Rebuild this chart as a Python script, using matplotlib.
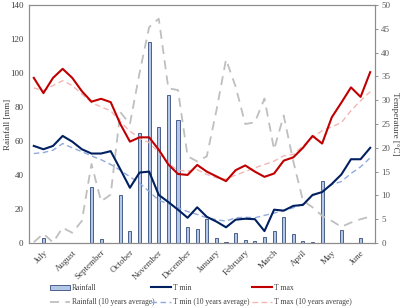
import numpy as np
import matplotlib.pyplot as plt
from matplotlib.patches import Patch
from matplotlib.lines import Line2D

# dekadal data, July -> June (3 values per month)
months = ['July', 'August', 'September', 'October', 'November', 'December',
          'January', 'February', 'March', 'April', 'May', 'June']

rainfall = [0, 3, 0, 0, 0, 0, 33, 2.5, 0, 28, 7, 64.5,
            118, 68, 87, 72.5, 9.2, 8.5, 14, 2.8, 0.6, 5.6, 1.9, 0.9,
            3.7, 7.2, 15, 5, 1.4, 0.4, 36.6, 0.2, 7.8, 0, 2.7, 0]
rainfall_avg = [0.5, 5.5, 0.3, 9, 6, 13, 46.5, 24.5, 28.5, 77, 70, 100,
                127, 132, 91, 90, 51, 48, 51, 78, 108, 92, 70, 71,
                85, 55, 75, 48, 25, 21, 16, 13, 9.5, 12, 14, 15.5]
t_min = [20.4, 19.7, 20.4, 22.5, 21.3, 19.7, 18.8, 18.8, 19.3, 15.5, 11.6, 14.8,
         15.0, 10.1, 8.6, 7.0, 5.3, 7.5, 5.5, 4.5, 3.3, 4.9, 5.1, 5.0,
         2.5, 7.0, 6.8, 7.8, 8.0, 10.1, 10.7, 12.4, 14.4, 17.6, 17.6, 20.0]
t_min_avg = [18.8, 19.0, 19.5, 20.9, 20.0, 19.2, 18.3, 17.5, 16.5, 15.3, 13.9, 12.6,
             10.8, 9.0, 8.2, 7.4, 6.6, 6.0, 5.3, 4.9, 4.6, 5.3, 5.4, 5.3,
             5.8, 6.3, 6.8, 7.4, 8.2, 9.9, 10.9, 12.3, 12.9, 14.6, 16.0, 17.9]
t_max = [34.7, 31.5, 34.7, 36.6, 34.7, 31.9, 29.7, 30.3, 29.6, 25.0, 21.3, 22.2,
         22.2, 19.6, 16.5, 14.5, 14.3, 16.4, 15.0, 14.0, 13.0, 15.3, 16.3, 15.0,
         13.9, 14.6, 17.3, 18.0, 20.0, 22.5, 20.9, 26.4, 29.5, 32.7, 30.7, 35.9]
t_max_avg = [32.6, 32.0, 33.1, 34.1, 33.1, 31.3, 29.5, 28.6, 27.8, 25.5, 23.5, 22.0,
             21.1, 19.0, 16.7, 15.3, 15.1, 15.4, 14.4, 13.7, 13.4, 14.3, 15.0, 15.8,
             16.5, 17.2, 18.3, 18.6, 20.4, 22.2, 23.6, 24.4, 25.3, 27.8, 29.9, 31.8]

plt.rcParams['font.family'] = 'Liberation Serif'
plt.rcParams['font.size'] = 6.5

x = np.arange(len(rainfall))

fig = plt.figure(figsize=(4, 3.07), dpi=100)
ax = fig.add_axes([0.0725, 0.2085, 0.865, 0.775])
ax2 = ax.twinx()

ax.bar(x, rainfall, width=0.32, color='#b4c7e7', edgecolor='#4a5f8a', linewidth=0.7)
ax.plot(x, rainfall_avg, color='#bfbfbf', lw=1.3, ls=(0, (5, 3.5)))

ax2.plot(x, t_min_avg, color='#8faadc', lw=1.0, ls=(0, (4, 2.5)))
ax2.plot(x, t_max_avg, color='#f4b5b5', lw=1.0, ls=(0, (4, 2.5)))
ax2.plot(x, t_min, color='#002060', lw=1.5)
ax2.plot(x, t_max, color='#c00000', lw=1.5)

ax.set_xlim(-0.5, len(x) - 0.5)
ax.set_ylim(0, 140)
ax.set_yticks(np.arange(0, 141, 20))
ax2.set_ylim(0, 50)
ax2.set_yticks(np.arange(0, 51, 5))

ax.set_xticks(x[1::3])
ax.set_xticklabels(months, rotation=45, ha='right', va='top', rotation_mode='anchor')
ax.tick_params(axis='x', length=0, pad=4, colors='#404040')
ax.tick_params(axis='y', length=0, pad=4, colors='#404040')
ax2.tick_params(axis='y', length=2.5, width=0.6, pad=2, color='#808080', labelcolor='#595959')

for a in (ax, ax2):
    for s in a.spines.values():
        s.set_color('#8c8c8c')
        s.set_linewidth(0.8)

fig.text(8 / 400, 1 - 124 / 307, 'Rainfall [mm]', rotation=90, ha='center', va='center', color='#404040')
fig.text(395 / 400, 1 - 124 / 307, 'Temperature [°C]', rotation=270, ha='center', va='center', color='#404040')

# legend: three columns, two rows, each column its own legend
columns = [
    ([Patch(facecolor='#b4c7e7', edgecolor='#4a5f8a', linewidth=0.7),
      Line2D([], [], color='#bfbfbf', lw=1.3, ls=(0, (5, 3.5)))],
     ['Rainfall', 'Rainfall (10 years average)'], 50),
    ([Line2D([], [], color='#002060', lw=1.5),
      Line2D([], [], color='#8faadc', lw=1.0, ls=(0, (4, 2.5)))],
     ['T min', 'T min (10 years average)'], 151),
    ([Line2D([], [], color='#c00000', lw=1.5),
      Line2D([], [], color='#f4b5b5', lw=1.0, ls=(0, (4, 2.5)))],
     ['T max', 'T max (10 years average)'], 252),
]
for hs, ls, x0 in columns:
    leg = fig.legend(hs, ls, loc='upper left', bbox_to_anchor=(x0 / 400, 1 - 284 / 307),
                     frameon=False, fontsize=5.5, handlelength=2.6, handletextpad=0.3,
                     labelspacing=0.85, borderpad=0, borderaxespad=0)
    for t in leg.get_texts():
        t.set_color('#404040')

fig.savefig('out.png', dpi=100)
